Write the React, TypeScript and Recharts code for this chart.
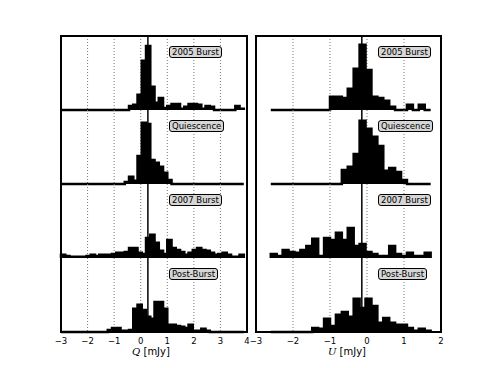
import { AreaChart, Area, XAxis, YAxis, CartesianGrid, ReferenceLine } from 'recharts';

// bin grid: edges at start + i * binWidth
const qBinStart = -3.0;
const uBinStart = -2.6;
const binWidth = 0.16;

const qTicks = [-3, -2, -1, 0, 1, 2, 3, 4];
const uTicks = [-3, -2, -1, 0, 1, 2];

// reference (solid) lines
const qCentre = 0.27;
const uCentre = -0.14;

const epochs = ['2005 Burst', 'Quiescence', '2007 Burst', 'Post-Burst'];

// normalised histograms, Q [mJy] (43 bins)
const qBurst2005 = [
  0, 0, 0, 0, 0, 0, 0, 0, 0, 0, 0, 0, 0, 0, 0, 0,
  0.10, 0.13, 0.38, 1.23, 1.60, 0.58, 0.18, 0.30, 0.05, 0.10,
  0.15, 0.15, 0.03, 0.08, 0.15, 0.15, 0.13, 0.03, 0.10, 0.08,
  0, 0, 0, 0, 0, 0.10, 0.03,
];
const qQuiescence = [
  0, 0, 0, 0, 0, 0, 0, 0, 0, 0, 0, 0, 0, 0, 0,
  0.05, 0.18, 0.08, 0.70, 1.53, 1.50, 0.60, 0.53, 0.43, 0.28, 0.10,
  0, 0, 0, 0, 0, 0, 0, 0, 0, 0, 0, 0, 0, 0, 0, 0, 0,
];
const qBurst2007 = [
  0.08, 0.05, 0.03, 0.03, 0.03, 0.03, 0.05, 0.08, 0.05, 0.08,
  0.08, 0.08, 0.10, 0.13, 0.13, 0.15, 0.25, 0.25, 0.13, 0.10,
  0.50, 0.58, 0.38, 0.18, 0.10, 0.45, 0.25, 0.20, 0.15, 0.08,
  0.13, 0.20, 0.25, 0.20, 0.18, 0.13, 0.08, 0.10, 0.13, 0.08,
  0.03, 0.03, 0.08,
];
const qPostBurst = [
  0, 0, 0, 0, 0, 0, 0, 0, 0, 0, 0,
  0.05, 0.10, 0.10, 0.03, 0.03, 0.05, 0.58, 0.68, 0.55, 0.38,
  0.33, 0.75, 0.75, 0.58, 0.18, 0.18, 0.15, 0.13, 0.10, 0.18,
  0.03, 0.03, 0.08, 0.03,
  0, 0, 0, 0, 0, 0, 0, 0,
];

// normalised histograms, U [mJy] (27 bins)
const uBurst2005 = [
  0, 0, 0, 0, 0, 0, 0, 0, 0, 0,
  0.33, 0.33, 0.30, 0.53, 1.03, 1.63, 1.00, 0.33, 0.30, 0.23,
  0.08, 0, 0, 0.13, 0, 0.13, 0,
];
const uQuiescence = [
  0, 0, 0, 0, 0, 0, 0, 0, 0, 0, 0, 0,
  0.35, 0.43, 0.75, 1.58, 1.38, 1.18, 0.95, 0.33, 0.40, 0.30, 0.10,
  0, 0, 0, 0,
];
const uBurst2007 = [
  0.10, 0.05, 0.20, 0.15, 0.13, 0.20, 0.30, 0.48, 0.05, 0.50,
  0.45, 0.63, 0.45, 0.75, 0.30, 0.35, 0.15, 0.10, 0.05, 0.05,
  0.30, 0.10, 0.05, 0.13, 0.05, 0.05, 0.13,
];
const uPostBurst = [
  0, 0, 0, 0, 0, 0, 0,
  0.10, 0.08, 0.33, 0.15, 0.43, 0.50, 0.38, 0.83, 0.60, 0.83,
  0.65, 0.23, 0.35, 0.23, 0.18, 0.18, 0.10, 0.03, 0.08, 0.03,
];

const densityMax = 1.85;

const PANEL_TOP = 36;
const SUB_H = 74;

// step outline for a histogram: closed at both ends
const toSteps = (start: number, vals: number[]) => {
  const pts = [{ x: start, y: 0 }];
  vals.forEach((v, i) => pts.push({ x: start + i * binWidth, y: v }));
  const end = start + vals.length * binWidth;
  pts.push({ x: end, y: vals[vals.length - 1] });
  pts.push({ x: end, y: 0 });
  return pts;
};

const fmt = (v: number) => (v < 0 ? '\u2212' + Math.abs(v) : String(v));

type PanelProps = {
  left: number;
  width: number;
  start: number;
  hists: number[][];
  ticks: number[];
  centre: number;
  labelLeft: number;
  axisVar: string;
  titleCentre: number;
};

const Panel = ({ left, width, start, hists, ticks, centre, labelLeft, axisVar, titleCentre }: PanelProps) => (
  <>
    {hists.map((vals, j) => {
      const last = j === hists.length - 1;
      return (
        <div key={j} style={{ position: 'absolute', left: left - 10, top: PANEL_TOP + j * SUB_H }}>
          <AreaChart
            width={width + 20}
            height={last ? SUB_H + 20 : SUB_H + 3}
            data={toSteps(start, vals)}
            margin={{ top: 0, right: 10, bottom: last ? 0 : 3, left: 10 }}
          >
            <CartesianGrid horizontal={false} stroke="#777" strokeDasharray="1 2" />
            <XAxis
              type="number"
              dataKey="x"
              domain={[ticks[0], ticks[ticks.length - 1]]}
              ticks={ticks}
              interval={0}
              hide={!last}
              height={20}
              tickLine={false}
              axisLine={false}
              tickSize={0}
              tickMargin={6}
              tickFormatter={fmt}
              tick={{ fontSize: 8.5, fill: '#000', fontFamily: 'DejaVu Sans' }}
            />
            <YAxis hide type="number" domain={[0, densityMax]} />
            <Area
              type="stepAfter"
              dataKey="y"
              stroke="#000"
              strokeWidth={2.5}
              fill="#000"
              fillOpacity={1}
              dot={false}
              activeDot={false}
              isAnimationActive={false}
            />
            <ReferenceLine x={centre} stroke="#000" strokeWidth={1.5} />
          </AreaChart>
        </div>
      );
    })}
    <div
      style={{
        position: 'absolute',
        left: left - 1,
        top: PANEL_TOP - 1,
        width: width + 2,
        height: SUB_H * 4 + 2,
        border: '2px solid #000',
        boxSizing: 'border-box',
        pointerEvents: 'none',
      }}
    />
    {epochs.map((name, j) => (
      <div
        key={name}
        style={{
          position: 'absolute',
          left: labelLeft,
          top: PANEL_TOP + j * SUB_H + 10,
          padding: '0.5px 2px',
          border: '1px solid #000',
          borderRadius: 3,
          background: '#d6d6d6',
          fontFamily: 'DejaVu Sans',
          fontSize: 8.5,
          lineHeight: '8.5px',
          color: '#000',
          whiteSpace: 'nowrap',
        }}
      >
        {name}
      </div>
    ))}
    <div
      style={{
        position: 'absolute',
        left: titleCentre - 50,
        width: 100,
        top: 346,
        textAlign: 'center',
        fontFamily: 'DejaVu Sans',
        fontSize: 10,
        lineHeight: '12px',
        color: '#000',
      }}
    >
      <span style={{ fontFamily: 'DejaVu Serif', fontStyle: 'italic' }}>{axisVar}</span> [mJy]
    </div>
  </>
);

export default function App() {
  return (
    <div style={{ position: 'absolute', left: 0, top: 0, width: 491, height: 368, background: '#fff', overflow: 'hidden' }}>
      <Panel
        left={61}
        width={186}
        start={qBinStart}
        hists={[qBurst2005, qQuiescence, qBurst2007, qPostBurst]}
        ticks={qTicks}
        centre={qCentre}
        labelLeft={169}
        axisVar="Q"
        titleCentre={151}
      />
      <Panel
        left={256}
        width={185}
        start={uBinStart}
        hists={[uBurst2005, uQuiescence, uBurst2007, uPostBurst]}
        ticks={uTicks}
        centre={uCentre}
        labelLeft={378}
        axisVar="U"
        titleCentre={347}
      />
    </div>
  );
}
